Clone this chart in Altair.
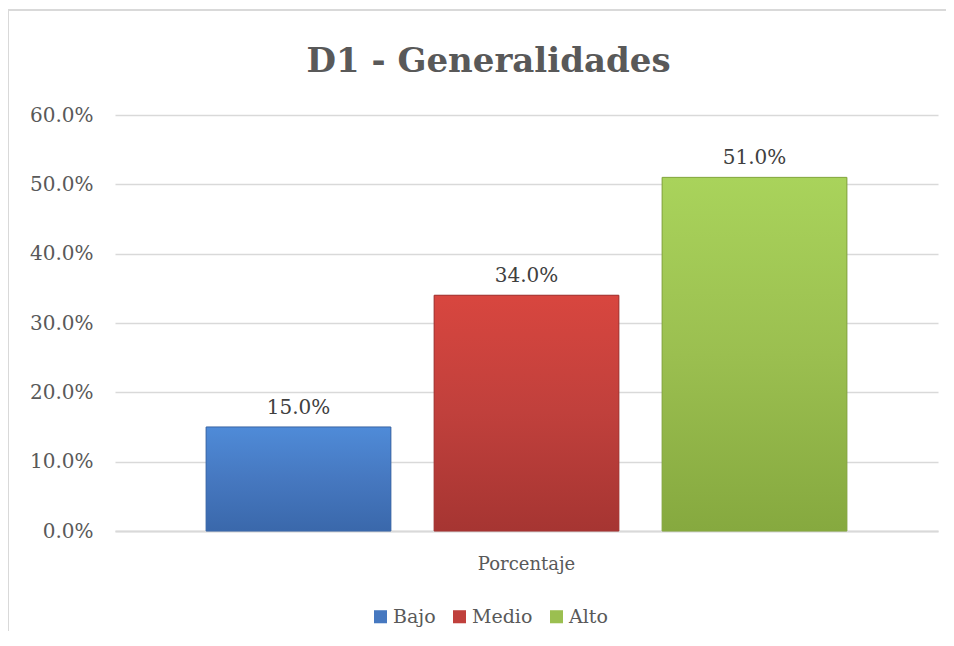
import altair as alt
import pandas as pd

# ---- data ----
niveles = ["Bajo", "Medio", "Alto"]
porcentajes = [0.15, 0.34, 0.51]
grupo = ["Porcentaje", "Porcentaje", "Porcentaje"]
colores = ["#4678c0", "#c0403c", "#9bbf50"]
gradiente_top = ["#4f8bd8", "#d8463f", "#a9d35b"]
gradiente_bot = ["#3a68ab", "#a63532", "#86a93f"]
ticks_y = [0.0, 0.1, 0.2, 0.3, 0.4, 0.5, 0.6]

df = pd.DataFrame({"grupo": grupo, "nivel": niveles, "valor": porcentajes})

FONT = "DejaVu Serif"
GRID = "#d9d9d9"
TXT = "#595959"

x_enc = alt.X(
    "grupo:N",
    scale=alt.Scale(paddingInner=0, paddingOuter=0.1016),
    axis=alt.Axis(title=None, labelAngle=0, ticks=False, domainColor=GRID,
                  domainWidth=2, labelFontSize=18, labelColor=TXT,
                  labelPadding=24, labelFont=FONT),
)
xo_enc = alt.XOffset("nivel:N", sort=niveles,
                     scale=alt.Scale(paddingInner=0.19, paddingOuter=0.095))
y_enc = alt.Y(
    "valor:Q",
    scale=alt.Scale(domain=[0, 0.6], nice=False),
    axis=alt.Axis(title=None, format=".1%", values=ticks_y, ticks=False,
                  domain=False, gridColor=GRID, gridWidth=1.5,
                  labelFontSize=20, labelColor=TXT, labelPadding=22,
                  labelFont=FONT),
)

base = alt.Chart(df).mark_bar(stroke="#7f7f7f", strokeWidth=0.5, strokeOpacity=0.6).encode(
    x=x_enc,
    xOffset=xo_enc,
    y=y_enc,
    color=alt.Color(
        "nivel:N", sort=niveles,
        scale=alt.Scale(domain=niveles, range=colores),
        legend=alt.Legend(title=None, orient="none", direction="horizontal",
                          legendX=256, legendY=492, symbolType="square",
                          symbolSize=170, symbolStrokeWidth=0,
                          labelFontSize=19, labelColor=TXT, labelFont=FONT,
                          columnPadding=14, labelOffset=3),
    ),
)

overlays = []
for i, n in enumerate(niveles):
    grad = alt.LinearGradient(
        gradient="linear", x1=0, y1=0, x2=0, y2=1,
        stops=[alt.GradientStop(color=gradiente_top[i], offset=0),
               alt.GradientStop(color=colores[i], offset=0.5),
               alt.GradientStop(color=gradiente_bot[i], offset=1)],
    )
    overlays.append(
        alt.Chart(df).transform_filter(alt.datum.nivel == n)
        .mark_bar(fill=grad, stroke=gradiente_bot[i], strokeWidth=1)
        .encode(x=x_enc, xOffset=xo_enc, y=y_enc)
    )

labels = alt.Chart(df).mark_text(
    baseline="bottom", dy=-9, fontSize=20, color="#404040", font=FONT
).encode(x=x_enc, xOffset=xo_enc, y=y_enc,
         text=alt.Text("valor:Q", format=".1%"))

# chart-area frame (only its left and top edges fall inside the picture)
marco = alt.Chart(pd.DataFrame({"a": [0]})).mark_rect(
    filled=False, stroke=GRID, strokeWidth=2
).encode(x=alt.value(-107), x2=alt.value(900),
         y=alt.value(-105), y2=alt.value(600))

chart = alt.layer(marco, base, *overlays, labels).properties(
    width=823, height=416,
    autosize="none",
    padding={"left": 107, "top": 107, "right": 8, "bottom": 100},
    title=alt.Title("D1 - Generalidades", fontSize=34, fontWeight="bold",
                    color=TXT, font=FONT, anchor="middle", dx=-38,
                    baseline="bottom", offset=0, dy=104),
).configure(font=FONT).configure_view(strokeWidth=0)

chart.save("out.html", embed_options={"renderer": "svg", "actions": False})
